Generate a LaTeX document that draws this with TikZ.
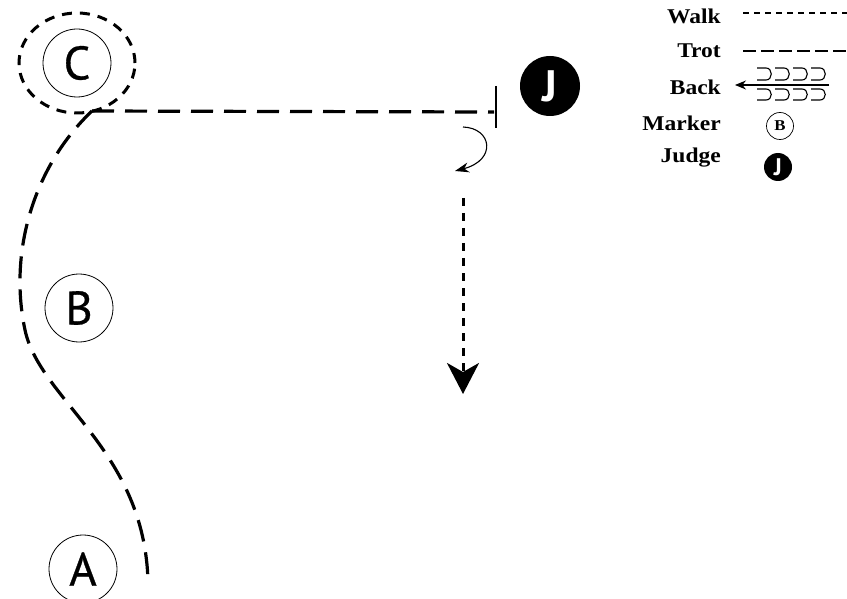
\documentclass[tikz,border=0pt]{standalone}
\usepackage{fontspec}
\setsansfont{PT Sans}
\newfontfamily\lettfont[FakeBold=0.6]{PT Sans}
\newfontfamily\legfont[FakeStretch=1.12]{Liberation Serif}
\usetikzlibrary{arrows.meta}
\begin{document}
\begin{tikzpicture}[x=1pt,y=-1pt,
 marker/.style={circle,draw,line width=0.8pt,minimum size=68pt,inner sep=0pt,font=\lettfont\fontsize{47}{47}\selectfont},
 trotline/.style={line width=3.2pt,dash pattern=on 22pt off 11pt},
 walkline/.style={line width=3pt,dash pattern=on 8pt off 7pt},
 leg/.style={anchor=east,inner sep=0pt,font=\legfont\bfseries\fontsize{21}{21}\selectfont},
 hook/.style={line width=1.1pt},
]
\useasboundingbox (0,0) rectangle (847,599);
% markers
\node[marker] (C) at (77,63) {C};
\node[marker] (B) at (79,308) {B};
\node[marker] (A) at (83,569) {A};
\node[circle,fill=black,minimum size=60pt,inner sep=0pt,text=white,font=\sffamily\bfseries\fontsize{44}{44}\selectfont] (J) at (550,86) {J};
% walk circle around C
\draw[line width=3pt,dash pattern=on 10pt off 8pt] (C.center) ellipse [x radius=58pt, y radius=50pt];
% trot path
\coordinate (s) at (92,111);
\coordinate (halt) at (494,112);
\coordinate (e) at (148,582);
\draw[trotline] (s) .. controls (35,165) and (8,250) .. (25,330) .. controls (40,400) and (145,450) .. (e);
\draw[trotline] (s) -- (halt);
\coordinate (bar1) at (496,86);
\coordinate (bar2) at (496,128);
\draw[line width=1.8pt] (bar1) -- (bar2);
% turn
\coordinate (t1) at (463,127);
\coordinate (t2) at (455,171);
\draw[line width=1.1pt,-{Stealth[length=14pt,width=10pt]}] (t1) .. controls (492,128) and (497,160) .. (t2);
% walk away
\coordinate (w1) at (463,198);
\coordinate (w2) at (463,394);
\draw[walkline,-{Stealth[length=31pt,width=32pt,inset=9pt]}] (w1) -- (w2);
% legend
\node[leg] (lw) at (721,16) {Walk};
\node[leg] (lt) at (721,51) {Trot};
\node[leg] (lb) at (721,87) {Back};
\node[leg] (lm) at (721,123) {Marker};
\node[leg] (lj) at (721,158) {Judge};
\coordinate (wl1) at (743,13);
\coordinate (wl2) at (850,13);
\draw[line width=1.5pt,dash pattern=on 6pt off 5pt] (wl1) -- (wl2);
\coordinate (tl1) at (743,51);
\coordinate (tl2) at (850,51);
\draw[line width=2pt,dash pattern=on 13pt off 5pt] (tl1) -- (tl2);
\coordinate (ba1) at (829,85);
\coordinate (ba2) at (735,85);
\draw[line width=1.1pt,-{Stealth[length=11pt,width=9pt]}] (ba1) -- (ba2);
\foreach \i in {0,1,2,3}{
  \pgfmathsetmacro{\xa}{757+18*\i}
  \draw[hook] (\xa,68) -- (\xa+9,68) .. controls (\xa+16,68) and (\xa+16,80) .. (\xa+9,80) -- (\xa,80);
  \draw[hook] (\xa,89) -- (\xa+9,89) .. controls (\xa+16,89) and (\xa+16,100) .. (\xa+9,100) -- (\xa,100);
}
\node[circle,draw,line width=0.7pt,minimum size=27pt,inner sep=0pt,font=\legfont\bfseries\fontsize{15}{15}\selectfont] (mb) at (780,126) {B};
\node[circle,fill=black,minimum size=28pt,inner sep=0pt,text=white,font=\sffamily\bfseries\fontsize{24}{24}\selectfont] (mj) at (778,167) {J};
\end{tikzpicture}
\end{document}
